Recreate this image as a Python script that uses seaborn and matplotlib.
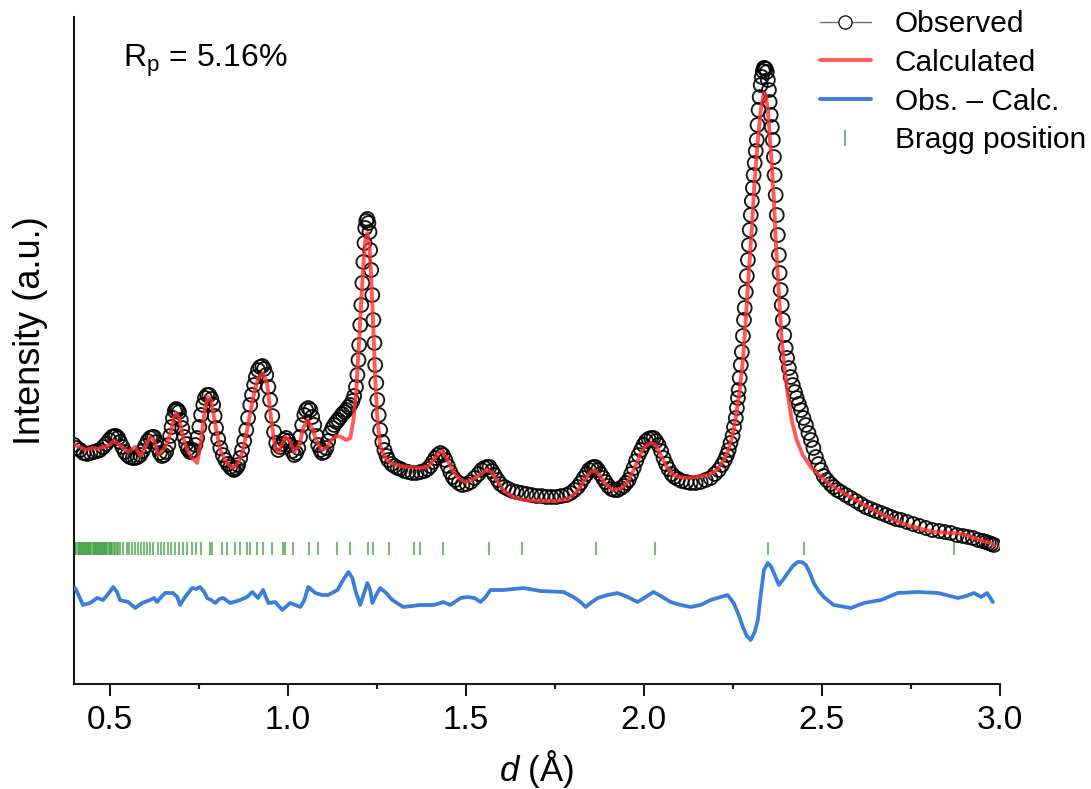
import matplotlib
matplotlib.use("Agg")
import matplotlib.pyplot as plt
from matplotlib.lines import Line2D
import seaborn as sns
import pandas as pd

# ---------------- data ----------------
obs_d = [
    0.400, 0.408, 0.417, 0.427, 0.437, 0.446, 0.456, 0.465, 0.473, 0.482,
    0.490, 0.499, 0.507, 0.513, 0.518, 0.524, 0.529, 0.536, 0.543, 0.550,
    0.557, 0.565, 0.572, 0.579, 0.586, 0.593, 0.600, 0.607, 0.614, 0.620,
    0.625, 0.630, 0.636, 0.641, 0.647, 0.653, 0.659, 0.665, 0.670, 0.674,
    0.678, 0.683, 0.687, 0.691, 0.695, 0.700, 0.704, 0.710, 0.715, 0.720,
    0.726, 0.731, 0.735, 0.741, 0.746, 0.752, 0.757, 0.763, 0.768, 0.774,
    0.780, 0.786, 0.791, 0.795, 0.799, 0.805, 0.811, 0.818, 0.825, 0.832,
    0.839, 0.845, 0.850, 0.856, 0.861, 0.867, 0.872, 0.878, 0.884, 0.889,
    0.895, 0.900, 0.906, 0.911, 0.917, 0.923, 0.929, 0.934, 0.940, 0.946,
    0.951, 0.957, 0.962, 0.968, 0.974, 0.979, 0.985, 0.990, 0.996, 1.002,
    1.007, 1.013, 1.019, 1.024, 1.030, 1.035, 1.041, 1.047, 1.052, 1.058,
    1.064, 1.069, 1.075, 1.081, 1.086, 1.092, 1.097, 1.103, 1.109, 1.114,
    1.120, 1.126, 1.131, 1.137, 1.142, 1.148, 1.154, 1.160, 1.165, 1.171,
    1.176, 1.182, 1.187, 1.192, 1.196, 1.199, 1.201, 1.204, 1.207, 1.210,
    1.213, 1.216, 1.218, 1.221, 1.224, 1.227, 1.230, 1.232, 1.235, 1.238,
    1.241, 1.244, 1.246, 1.249, 1.252, 1.256, 1.260, 1.266, 1.272, 1.278,
    1.283, 1.292, 1.300, 1.309, 1.317, 1.328, 1.339, 1.350, 1.362, 1.373,
    1.384, 1.393, 1.401, 1.408, 1.415, 1.422, 1.429, 1.436, 1.443, 1.450,
    1.457, 1.464, 1.471, 1.481, 1.491, 1.503, 1.514, 1.525, 1.536, 1.545,
    1.553, 1.560, 1.567, 1.574, 1.581, 1.590, 1.598, 1.609, 1.620, 1.632,
    1.643, 1.657, 1.671, 1.685, 1.699, 1.713, 1.727, 1.741, 1.755, 1.769,
    1.784, 1.795, 1.806, 1.815, 1.823, 1.832, 1.840, 1.847, 1.854, 1.860,
    1.865, 1.872, 1.879, 1.886, 1.893, 1.901, 1.910, 1.918, 1.927, 1.936,
    1.944, 1.951, 1.958, 1.965, 1.972, 1.979, 1.986, 1.993, 2.000, 2.007,
    2.014, 2.021, 2.028, 2.035, 2.042, 2.049, 2.056, 2.063, 2.070, 2.079,
    2.087, 2.097, 2.107, 2.120, 2.132, 2.146, 2.160, 2.174, 2.188, 2.200,
    2.211, 2.220, 2.228, 2.234, 2.239, 2.244, 2.250, 2.254, 2.259, 2.262,
    2.265, 2.267, 2.270, 2.273, 2.276, 2.279, 2.282, 2.284, 2.287, 2.290,
    2.293, 2.296, 2.298, 2.301, 2.304, 2.307, 2.309, 2.312, 2.315, 2.318,
    2.320, 2.323, 2.326, 2.329, 2.332, 2.335, 2.338, 2.340, 2.343, 2.346,
    2.349, 2.352, 2.354, 2.357, 2.360, 2.363, 2.366, 2.368, 2.371, 2.374,
    2.377, 2.380, 2.382, 2.385, 2.388, 2.391, 2.395, 2.399, 2.403, 2.408,
    2.413, 2.419, 2.425, 2.430, 2.436, 2.442, 2.449, 2.456, 2.463, 2.470,
    2.477, 2.484, 2.491, 2.498, 2.506, 2.515, 2.525, 2.534, 2.544, 2.554,
    2.568, 2.582, 2.596, 2.610, 2.624, 2.638, 2.652, 2.667, 2.681, 2.695,
    2.709, 2.723, 2.740, 2.757, 2.775, 2.793, 2.811, 2.830, 2.846, 2.863,
    2.880, 2.897, 2.911, 2.925, 2.939, 2.953, 2.962, 2.970, 2.977, 2.984,
]
obs_I = [
    239, 236, 234, 231, 230, 231, 232, 233, 234, 237,
    240, 244, 247, 248, 248, 246, 242, 237, 232, 229,
    227, 226, 226, 227, 229, 233, 238, 243, 246, 247,
    247, 242, 236, 231, 228, 229, 232, 239, 248, 257,
    266, 273, 275, 274, 272, 264, 256, 247, 240, 235,
    232, 233, 234, 239, 246, 257, 269, 279, 286, 289,
    289, 285, 279, 268, 256, 245, 236, 229, 224, 220,
    217, 215, 214, 216, 219, 226, 234, 243, 254, 266,
    279, 289, 299, 307, 314, 317, 318, 315, 309, 297,
    284, 268, 252, 241, 234, 237, 240, 244, 246, 243,
    239, 233, 229, 231, 236, 247, 259, 269, 274, 276,
    274, 267, 259, 248, 239, 234, 231, 232, 236, 243,
    251, 256, 259, 262, 264, 267, 270, 272, 274, 277,
    279, 283, 288, 297, 309, 324, 339, 359, 379, 401,
    422, 441, 456, 463, 465, 461, 452, 434, 414, 389,
    364, 341, 319, 301, 284, 269, 254, 242, 234, 228,
    224, 220, 218, 216, 215, 213, 212, 211, 211, 212,
    213, 215, 218, 222, 226, 229, 231, 229, 224, 218,
    212, 207, 204, 201, 199, 200, 202, 206, 210, 214,
    216, 217, 217, 213, 209, 204, 200, 197, 195, 193,
    192, 191, 190, 189, 188, 188, 187, 187, 187, 188,
    189, 191, 194, 197, 201, 206, 210, 214, 216, 217,
    217, 214, 210, 206, 202, 198, 195, 194, 194, 196,
    198, 201, 204, 210, 216, 223, 229, 234, 239, 243,
    245, 246, 246, 243, 239, 233, 226, 220, 215, 210,
    207, 205, 203, 202, 201, 201, 202, 204, 206, 210,
    214, 219, 224, 229, 234, 241, 248, 257, 266, 276,
    286, 294, 306, 319, 332, 348, 364, 376, 392, 408,
    424, 439, 454, 469, 483, 496, 509, 521, 533, 544,
    559, 574, 587, 599, 607, 613, 616, 616, 615, 612,
    604, 594, 582, 569, 557, 544, 527, 509, 489, 469,
    449, 429, 411, 394, 379, 364, 349, 336, 326, 316,
    307, 299, 292, 286, 280, 274, 266, 259, 251, 244,
    236, 227, 220, 214, 208, 204, 200, 197, 194, 192,
    189, 186, 183, 180, 177, 175, 173, 171, 169, 167,
    165, 164, 162, 160, 158, 156, 154, 153, 152, 151,
    149, 148, 147, 146, 144, 143, 142, 141, 140, 139,
]

calc_d = [
    0.400, 0.417, 0.434, 0.451, 0.467, 0.482, 0.496, 0.512, 0.524, 0.535,
    0.552, 0.572, 0.586, 0.600, 0.614, 0.625, 0.636, 0.650, 0.662, 0.673,
    0.681, 0.687, 0.695, 0.707, 0.718, 0.732, 0.746, 0.757, 0.768, 0.777,
    0.785, 0.797, 0.811, 0.827, 0.847, 0.861, 0.875, 0.889, 0.903, 0.917,
    0.931, 0.943, 0.954, 0.965, 0.974, 0.985, 0.993, 1.005, 1.019, 1.033,
    1.044, 1.055, 1.066, 1.081, 1.095, 1.109, 1.123, 1.137, 1.151, 1.165,
    1.176, 1.185, 1.193, 1.201, 1.207, 1.213, 1.218, 1.224, 1.230, 1.235,
    1.241, 1.246, 1.252, 1.260, 1.272, 1.289, 1.317, 1.345, 1.373, 1.396,
    1.410, 1.424, 1.435, 1.449, 1.463, 1.480, 1.500, 1.519, 1.542, 1.559,
    1.573, 1.587, 1.606, 1.632, 1.665, 1.710, 1.755, 1.789, 1.812, 1.831,
    1.848, 1.862, 1.876, 1.893, 1.913, 1.935, 1.955, 1.972, 1.989, 2.003,
    2.020, 2.034, 2.048, 2.065, 2.084, 2.110, 2.146, 2.183, 2.205, 2.222,
    2.236, 2.248, 2.259, 2.270, 2.279, 2.287, 2.295, 2.304, 2.312, 2.321,
    2.329, 2.338, 2.343, 2.349, 2.354, 2.360, 2.366, 2.371, 2.377, 2.383,
    2.388, 2.397, 2.405, 2.416, 2.430, 2.447, 2.470, 2.498, 2.534, 2.582,
    2.630, 2.678, 2.723, 2.771, 2.816, 2.863, 2.897, 2.928, 2.953, 2.976,
    2.984,
]
calc_I = [
    239, 237, 234, 236, 235, 237, 238, 243, 240, 237,
    232, 237, 228, 237, 247, 244, 229, 234, 241, 254,
    266, 271, 266, 246, 234, 226, 221, 244, 276, 287,
    284, 259, 234, 222, 216, 221, 234, 259, 286, 306,
    311, 299, 264, 236, 232, 240, 247, 244, 232, 239,
    256, 264, 258, 244, 234, 236, 244, 248, 247, 244,
    246, 264, 294, 344, 384, 419, 444, 451, 439, 404,
    354, 304, 266, 239, 227, 221, 218, 217, 216, 218,
    224, 231, 233, 224, 214, 206, 202, 204, 210, 214,
    212, 204, 194, 187, 184, 183, 183, 185, 192, 202,
    211, 214, 209, 200, 194, 195, 202, 214, 228, 237,
    241, 239, 229, 217, 209, 206, 207, 209, 214, 222,
    232, 246, 266, 294, 324, 364, 409, 456, 504, 544,
    574, 591, 589, 574, 549, 519, 484, 444, 409, 374,
    344, 312, 289, 264, 244, 229, 217, 207, 197, 187,
    177, 168, 161, 156, 152, 151, 150, 146, 143, 141,
    139,
]

diff_d = [
    0.403, 0.414, 0.425, 0.445, 0.465, 0.482, 0.496, 0.510, 0.521, 0.529,
    0.552, 0.572, 0.591, 0.614, 0.625, 0.633, 0.645, 0.656, 0.678, 0.690,
    0.698, 0.712, 0.732, 0.743, 0.754, 0.766, 0.774, 0.785, 0.797, 0.808,
    0.819, 0.839, 0.867, 0.886, 0.901, 0.917, 0.931, 0.946, 0.965, 0.985,
    1.007, 1.036, 1.047, 1.058, 1.078, 1.097, 1.114, 1.140, 1.156, 1.171,
    1.182, 1.190, 1.204, 1.216, 1.224, 1.232, 1.238, 1.249, 1.260, 1.277,
    1.294, 1.325, 1.373, 1.410, 1.438, 1.457, 1.486, 1.505, 1.525, 1.542,
    1.556, 1.570, 1.606, 1.663, 1.710, 1.775, 1.803, 1.823, 1.837, 1.851,
    1.871, 1.899, 1.927, 1.955, 1.983, 2.006, 2.028, 2.048, 2.076, 2.104,
    2.132, 2.160, 2.188, 2.217, 2.236, 2.253, 2.267, 2.279, 2.290, 2.301,
    2.312, 2.321, 2.329, 2.338, 2.349, 2.357, 2.366, 2.380, 2.391, 2.405,
    2.419, 2.433, 2.444, 2.456, 2.467, 2.478, 2.492, 2.506, 2.534, 2.582,
    2.619, 2.667, 2.714, 2.771, 2.827, 2.883, 2.906, 2.928, 2.948, 2.965,
    2.981,
]
diff_I = [
    96, 88, 79, 81, 86, 84, 90, 97, 92, 84,
    82, 76, 81, 84, 86, 82, 87, 91, 91, 87,
    79, 87, 96, 95, 97, 92, 86, 84, 81, 85,
    86, 81, 84, 87, 92, 86, 94, 81, 82, 74,
    81, 77, 84, 97, 91, 89, 89, 94, 104, 112,
    106, 94, 79, 92, 101, 94, 81, 89, 96, 91,
    84, 77, 79, 79, 82, 79, 86, 87, 86, 82,
    87, 94, 94, 96, 93, 92, 87, 82, 77, 81,
    86, 89, 91, 87, 82, 87, 92, 88, 82, 79,
    77, 79, 84, 87, 89, 81, 69, 57, 48, 44,
    52, 64, 89, 114, 121, 118, 111, 99, 104, 111,
    118, 122, 122, 119, 111, 101, 93, 87, 79, 76,
    81, 84, 91, 92, 91, 86, 88, 91, 87, 91,
    82,
]

bragg_d = [
    0.401, 0.404, 0.407, 0.410, 0.413, 0.416, 0.419, 0.422, 0.425, 0.428,
    0.431, 0.434, 0.437, 0.440, 0.443, 0.446, 0.449, 0.452, 0.455, 0.458,
    0.461, 0.464, 0.467, 0.470, 0.473, 0.476, 0.479, 0.482, 0.485, 0.488,
    0.491, 0.494, 0.497, 0.500, 0.504, 0.508, 0.512, 0.516, 0.520, 0.524,
    0.529, 0.539, 0.548, 0.555, 0.563, 0.572, 0.579, 0.588, 0.597, 0.606,
    0.614, 0.623, 0.635, 0.644, 0.654, 0.664, 0.673, 0.684, 0.695, 0.707,
    0.718, 0.732, 0.743, 0.757, 0.781, 0.787, 0.815, 0.829, 0.851, 0.867,
    0.886, 0.895, 0.914, 0.932, 0.956, 0.987, 0.993, 1.015, 1.059, 1.086,
    1.139, 1.175, 1.226, 1.240, 1.284, 1.354, 1.373, 1.437, 1.565, 1.659,
    1.865, 2.031, 2.349, 2.451, 2.873,
]
bragg_low, bragg_high = 129, 142

x_ticks = [0.5, 1.0, 1.5, 2.0, 2.5, 3.0]
x_tick_labels = ["0.5", "1.0", "1.5", "2.0", "2.5", "3.0"]
x_minor = [0.75, 1.25, 1.75, 2.25, 2.75]
legend_labels = ["Observed", "Calculated", "Obs. \u2013 Calc.", "Bragg position"]

assert len(obs_d) == len(obs_I)
assert len(calc_d) == len(calc_I)
assert len(diff_d) == len(diff_I)

obs = pd.DataFrame({"d": obs_d, "I": obs_I})
calc = pd.DataFrame({"d": calc_d, "I": calc_I})
diff = pd.DataFrame({"d": diff_d, "I": diff_I})

# ---------------- style ----------------
sns.set_theme(style="white")
plt.rcParams["font.family"] = ["Liberation Sans", "DejaVu Sans"]
plt.rcParams["mathtext.fontset"] = "custom"
plt.rcParams["mathtext.rm"] = "Liberation Sans"
plt.rcParams["mathtext.it"] = "Liberation Sans:italic"
plt.rcParams["axes.edgecolor"] = "#1a1a1a"
plt.rcParams["text.color"] = "black"
plt.rcParams["axes.labelcolor"] = "black"
plt.rcParams["xtick.color"] = "#1a1a1a"
plt.rcParams["xtick.labelcolor"] = "black"

RED = "#ff3232"
BLUE = "#3a7ddb"
GREEN = "#40a040"

W, H = 1091, 789
fig = plt.figure(figsize=(W / 100, H / 100), dpi=100)
ax = fig.add_axes([74 / W, 1 - 684 / H, (999.6 - 74) / W, (684 - 17) / H])
ax.set_facecolor("white")

sns.scatterplot(data=obs, x="d", y="I", ax=ax, marker="o", s=100,
                facecolor="none", edgecolor="black", linewidth=1.35,
                alpha=0.9, legend=False, zorder=2)
sns.lineplot(data=calc, x="d", y="I", ax=ax, color=RED, lw=2.8, alpha=0.8,
             sort=False, estimator=None, zorder=3)
sns.lineplot(data=diff, x="d", y="I", ax=ax, color=BLUE, lw=2.7,
             sort=False, estimator=None, zorder=3)
ax.vlines(bragg_d, bragg_low, bragg_high, color=GREEN, alpha=0.7, lw=1.5,
          zorder=2)

ax.set_xlim(0.4, 3.0)
ax.set_ylim(0, 667)
ax.set_xticks(x_ticks)
ax.set_xticklabels(x_tick_labels)
ax.set_xticks(x_minor, minor=True)
ax.set_yticks([])
ax.tick_params(axis="x", which="major", direction="out", length=8.3,
               width=1.5, labelsize=24, pad=6.8, bottom=True)
ax.tick_params(axis="x", which="minor", direction="out", length=3.8,
               width=1.5, bottom=True)
for side in ("top", "right"):
    ax.spines[side].set_visible(False)
for side in ("left", "bottom"):
    ax.spines[side].set_linewidth(1.5)

ax.set_xlabel(r"$\mathit{d}$ (Å)", fontsize=25, labelpad=9)
ax.set_ylabel("Intensity (a.u.)", fontsize=26)
ax.yaxis.set_label_coords(-0.028, 0.53)

fig.text(123 / W, 1 - 67 / H, r"R$_\mathrm{p}$ = 5.16%", fontsize=23,
         va="baseline", ha="left")

handles = [
    Line2D([], [], color="#707070", lw=1.0, marker="o", ms=9.5,
           mfc="white", mec="black", mew=0.9),
    Line2D([], [], color=RED, lw=2.8, alpha=0.8),
    Line2D([], [], color=BLUE, lw=2.8),
    Line2D([], [], ls="none", marker="|", ms=11, mew=1.4, color=GREEN,
           alpha=0.75),
]
ax.legend(handles, legend_labels, loc="upper left",
          bbox_to_anchor=(820 / W, 1 - 10 / H), bbox_transform=fig.transFigure,
          frameon=False, fontsize=21.5, handlelength=1.7, handletextpad=0.8,
          labelspacing=0.36, borderpad=0, borderaxespad=0, numpoints=1)

fig.savefig("out.png", dpi=100)
